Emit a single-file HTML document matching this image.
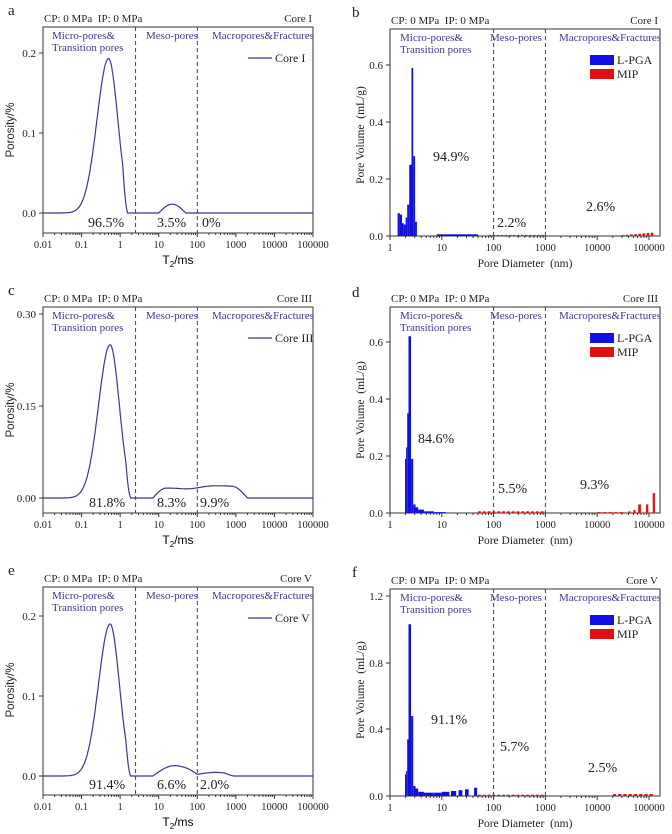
<!DOCTYPE html>
<html><head><meta charset="utf-8"><style>
html,body{margin:0;padding:0;background:#fff;width:672px;height:834px;overflow:hidden}
svg{display:block}
</style></head><body>
<svg id="s" width="672" height="834" xmlns="http://www.w3.org/2000/svg" font-family="Liberation Serif, serif"></svg>
<script>
const S=document.getElementById('s');let h='';
function t(x,y,s,o){o=o||{};h+=`<text x="${x}" y="${y}" font-size="${o.fs||11}" fill="${o.c||'#222'}" text-anchor="${o.a||'start'}" ${o.ff?`font-family="${o.ff}"`:''} ${o.tr?`transform="${o.tr}"`:''}>${s}</text>`;}
function line(x1,y1,x2,y2,st,w,d){h+=`<line x1="${x1}" y1="${y1}" x2="${x2}" y2="${y2}" stroke="${st||'#333'}" stroke-width="${w||1}" ${d?`stroke-dasharray="${d}"`:''}/>`;}
const navy='#3a3a85';
function g(x,m,s){return Math.exp(-0.5*((x-m)/s)**2);}
function pk(l,m,sl,sr,c){if(l>=c)return 0;const v=l<m?g(l,m,sl):g(l,m,sr);const tail=Math.min(1,(c-l)/0.12);return v*(l>c-0.12?Math.max(tail,0):1);}
function left(oy,lab,top,bot,zeroY,ticks,core,f,pcts,ylabY){
 const x0=43,x1=313,px=(x1-x0)/7;const X=l=>x0+(l+2)*px;
 t(8,oy+15,lab,{fs:15});
 t(44,top-5,'CP: 0 MPa&#160;&#160;IP: 0 MPa');t(312,top-5,core,{a:'end'});
 h+=`<rect x="${x0}" y="${top}" width="${x1-x0}" height="${bot-top}" fill="none" stroke="#333" stroke-width="1"/>`;
 ticks.forEach(([v,y])=>{line(x0-4,y,x0,y);t(x0-7,y+4,v,{a:'end'});});
 for(let d=0;d<=7;d++){const x=x0+d*px;line(x,bot,x,bot+4);t(x,bot+15,['0.01','0.1','1','10','100','1000','10000','100000'][d],{a:'middle',fs:10.5});
  if(d<7)for(let k=2;k<10;k++){const xx=x+Math.log10(k)*px;line(xx,bot,xx,bot+2);}}
 line(X(0.4),top,X(0.4),bot,'#444',1,'4,3');line(X(2),top,X(2),bot,'#444',1,'4,3');
 t(52,top+12,'Micro-pores&amp;',{c:navy});t(52,top+24,'Transition pores',{c:navy});
 t(146,top+12,'Meso-pores',{c:navy});t(212,top+12,'Macropores&amp;Fractures',{c:navy});
 line(248,top+31,272,top+31,navy,1.2);t(275,top+35,core,{fs:12});
 let p='';for(let i=0;i<=700;i++){const l=-2+i*0.01;p+=(i?'L':'M')+X(l).toFixed(1)+','+(zeroY-f(l)).toFixed(1);}
 h+=`<path d="${p}" fill="none" stroke="${navy}" stroke-width="1.2"/>`;
 pcts.forEach(([s,x])=>t(x,bot-6,s,{fs:14}));
 t(0,0,'Porosity/%',{ff:'Liberation Sans, sans-serif',fs:11.5,a:'middle',tr:`translate(14,${ylabY}) rotate(-90)`});
 h+=`<text x="178" y="${bot+31}" font-size="12" font-family="Liberation Sans, sans-serif" text-anchor="middle">T<tspan font-size="8" dy="3">2</tspan><tspan dy="-3">/ms</tspan></text>`;
}
left(0,'a',27,233,213,[['0.2',53],['0.1',133],['0.0',213]],'Core I',
 l=>{const k=800;return 0.193*k*pk(l,-0.3,0.3,0.24,0.19)+0.011*k*(l>1&&l<1.7?Math.sin((l-1)/0.7*Math.PI):0);},
 [['96.5%',88],['3.5%',157],['0%',202]],130);
left(280,'c',307,513,498,[['0.30',314],['0.15',406],['0.00',498]],'Core III',
 l=>{const k=613;let v=0.25*k*pk(l,-0.26,0.3,0.24,0.27);
  if(l>0.85&&l<3.3){let m=l<1.2?(l-0.85)/0.35:1;let e=l>2.9?(3.3-l)/0.4:1;m=Math.sin(Math.PI/2*Math.min(1,m));v+=k*(0.016+0.004*g(l,2.5,0.6)-0.003*g(l,1.8,0.25))*m*Math.sin(Math.PI/2*Math.min(1,e));}return v;},
 [['81.8%',89],['8.3%',157],['9.9%',200]],410);
left(560,'e',587,795,776,[['0.2',616],['0.1',696],['0.0',776]],'Core V',
 l=>{const k=800;let v=0.19*k*pk(l,-0.26,0.3,0.24,0.27);
  if(l>0.85&&l<2)v+=k*0.013*Math.sin((l-0.85)/1.15*Math.PI)+k*0.002*(l>1.6?1:0)*Math.sin((l-1.6)/0.4*Math.PI/2);
  if(l>=2&&l<2.95)v+=k*(0.002+0.0025*Math.sin((l-2)/0.95*Math.PI))*(l>2.7?(2.95-l)/0.25:1);return v;},
 [['91.4%',89],['6.6%',157],['2.0%',200]],690);
function right(oy,lab,top,bot,ticks,scale,core,blue,red,pcts,ylabY){
 const x0=390,x1=660,px=51.8;const X=n=>x0+Math.log10(n)*px;
 t(352,oy+17,lab,{fs:15});
 t(391,top-5,'CP: 0 MPa&#160;&#160;IP: 0 MPa');t(658,top-5,core,{a:'end'});
 h+=`<rect x="${x0}" y="${top}" width="${x1-x0}" height="${bot-top}" fill="none" stroke="#333" stroke-width="1"/>`;
 ticks.forEach(([v,y])=>{line(x0-4,y,x0,y);t(x0-7,y+4,v,{a:'end'});});
 for(let d=0;d<=5;d++){const x=x0+d*px;line(x,bot,x,bot+4);t(x,bot+15,['1','10','100','1000','10000','100000'][d],{a:'middle',fs:10.5});
  for(let k=2;k<10;k++){const xx=x+Math.log10(k)*px;if(xx<x1)line(xx,bot,xx,bot+2);}}
 line(X(100),top,X(100),bot,'#444',1,'4,3');line(X(1000),top,X(1000),bot,'#444',1,'4,3');
 t(400,top+12,'Micro-pores&amp;',{c:navy});t(400,top+24,'Transition pores',{c:navy});
 t(490,top+12,'Meso-pores',{c:navy});t(559,top+12,'Macropores&amp;Fractures',{c:navy});
 h+=`<rect x="590" y="${top+26}" width="24" height="10" fill="#1010e0"/><rect x="590" y="${top+40}" width="24" height="10" fill="#e01010"/>`;
 t(617,top+35,'L-PGA',{fs:12});t(617,top+49,'MIP',{fs:12});
 const bar=(arr,c)=>arr.forEach(([a,b,v])=>{const y=bot-v*scale;h+=`<rect x="${X(a).toFixed(1)}" y="${y.toFixed(1)}" width="${(X(b)-X(a)).toFixed(1)}" height="${(bot-y).toFixed(1)}" fill="${c}"/>`;});
 bar(blue,'#1010d8');bar(red,'#e01010');
 pcts.forEach(([s,x,y])=>t(x,y,s,{fs:14}));
 t(0,0,'Pore Volume&#160;&#160;(mL/g)',{fs:11.5,a:'middle',tr:`translate(364,${ylabY}) rotate(-90)`});
 t(525,bot+31,'Pore Diameter&#160;&#160;(nm)',{fs:11.5,a:'middle'});
}
function tail(a,b,v,n){const r=[];const la=Math.log10(a),lb=Math.log10(b);for(let i=0;i<n;i++){const s=la+(lb-la)*i/n;r.push([10**s,10**(s+(lb-la)/n*0.6),typeof v=='function'?v(i/n):v]);}return r;}
right(0,'b',29,236,[['0.6',65],['0.4',122],['0.2',179],['0.0',236]],285,'Core I',
 [[1.4,1.55,0.08],[1.55,1.7,0.075],[1.7,1.85,0.045],[1.85,2.0,0.04],[2.0,2.15,0.065],[2.15,2.35,0.11],[2.35,2.6,0.25],[2.6,2.8,0.59],[2.8,3.05,0.28],[3.05,3.3,0.05],[8,50,0.006]],
 tail(80,1000,0.004,14).concat(tail(30000,130000,v=>0.003+0.01*v,8)),
 [['94.9%',433,161],['2.2%',497,227],['2.6%',586,211]],135);
right(280,'d',307,513,[['0.6',342],['0.4',399],['0.2',456],['0.0',513]],285,'Core III',
 [[1.95,2.05,0.19],[2.05,2.15,0.23],[2.15,2.28,0.35],[2.28,2.55,0.62],[2.55,2.8,0.19],[2.8,3.1,0.03],[3.1,3.5,0.02],[3.5,4.5,0.012],[4.5,7,0.006],[7,12,0.003]],
 tail(50,1000,0.006,14).concat(tail(10000,35000,0.003,5),[[40000,44000,0.006],[50000,55000,0.01],[62000,70000,0.03],[88000,97000,0.03],[118000,130000,0.07]]),
 [['84.6%',418,443],['5.5%',498,493],['9.3%',580,489]],410);
right(560,'f',589,796,[['1.2',596],['0.8',663],['0.4',729],['0.0',796]],166.7,'Core V',
 [[1.95,2.05,0.13],[2.05,2.15,0.15],[2.15,2.28,0.34],[2.28,2.55,1.03],[2.55,2.8,0.48],[2.8,3.1,0.06],[3.1,3.5,0.045],[3.5,4.5,0.025],[4.5,7,0.02],[7,10,0.02],[10,14,0.025],[15,19,0.03],[21,25,0.035],[28,33,0.04],[42,48,0.05]],
 tail(50,1000,0.008,14).concat(tail(20000,130000,0.012,8)),
 [['91.1%',431,724],['5.7%',500,751],['2.5%',588,772]],690);
S.innerHTML=h;
</script>
</body></html>
